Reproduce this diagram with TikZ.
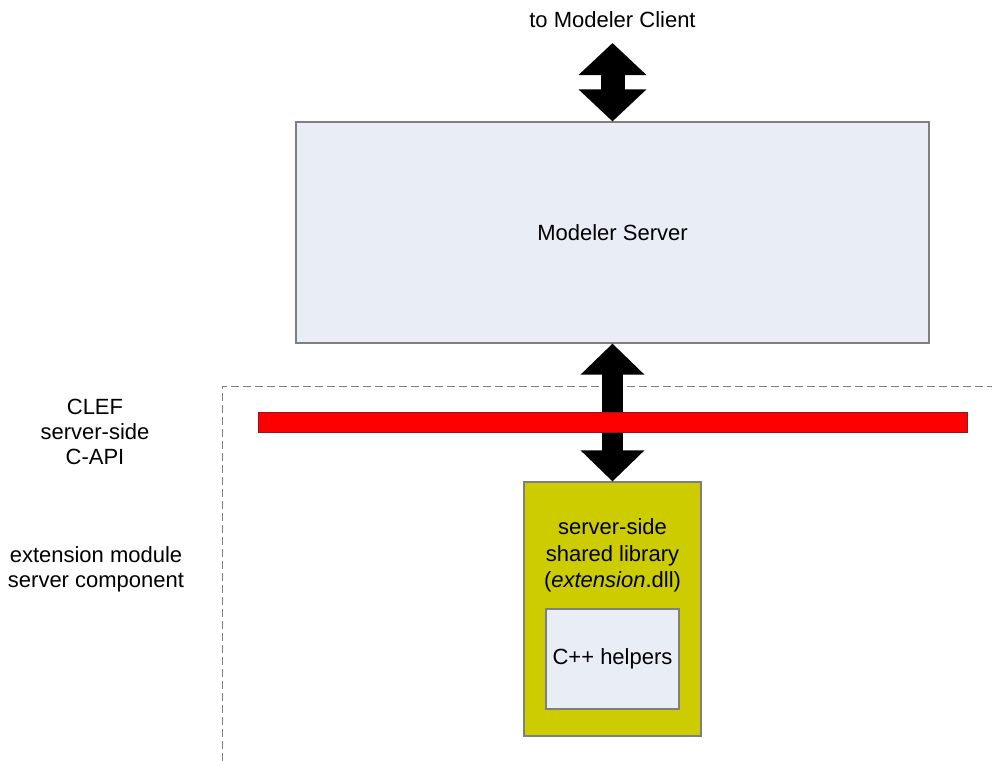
\documentclass[tikz,border=0pt]{standalone}
\usepackage{fontspec}
\setmainfont{Liberation Sans}
\usepackage{tikz}
\usetikzlibrary{arrows.meta}

\definecolor{boxblue}{HTML}{E9EDF6}
\definecolor{libyellow}{HTML}{CCCC00}
\definecolor{apired}{HTML}{FF0000}
\definecolor{apiedge}{HTML}{8B1A1A}
\definecolor{edgegray}{HTML}{7F7F7F}

\tikzset{
	every node/.style={font=\fontsize{11}{12.6}\selectfont},
	box/.style={draw=edgegray, line width=0.6pt, inner sep=0pt},
	fatarrow/.style n args={3}{line width=#1, {Triangle[length=#2,width=#3]}-{Triangle[length=#2,width=#3]}},
	dashline/.style={draw=gray, line width=0.5pt, dash pattern=on 4pt off 2pt}
}

\begin{document}
\begin{tikzpicture}[x=0.5pt, y=-0.5pt]
		\useasboundingbox (0,0) rectangle (992,761);
		\draw[dashline] (222,761) |- (992,386);
		\node (client) at (612.5,20) {to Modeler Client};
		\coordinate (clientend) at (612.5,43);
		\node[box, fill=boxblue, minimum width=316.5pt, minimum height=110.5pt] (server) at (612.5,232.5) {Modeler Server};
		\node[box, fill=libyellow, minimum width=88.5pt, minimum height=127pt] (lib) at (612.5,609) {};
		\node[align=center, font=\fontsize{11}{13.2}\selectfont] (libtext) at (612.5,555.5) {server-side\\shared library\\(\textit{extension}.dll)};
		\node[box, fill=boxblue, minimum width=66.5pt, minimum height=50pt] (helpers) at (612.5,659) {C++ helpers};
		\draw[fatarrow={12pt}{16pt}{33pt}] (clientend) -- (server.north);
		\draw[fatarrow={10.5pt}{15.5pt}{31pt}] (server.south) -- (lib.north);
		\node[draw=apiedge, fill=apired, line width=0.5pt, inner sep=0pt, minimum width=354.5pt, minimum height=10pt] (api) at (612.5,422) {};
		\node[align=center] (clef) at (95,432) {CLEF\\server-side\\C-API};
		\node[align=center] (extmod) at (96,569) {extension module\\server component};
	\end{tikzpicture}
\end{document}
